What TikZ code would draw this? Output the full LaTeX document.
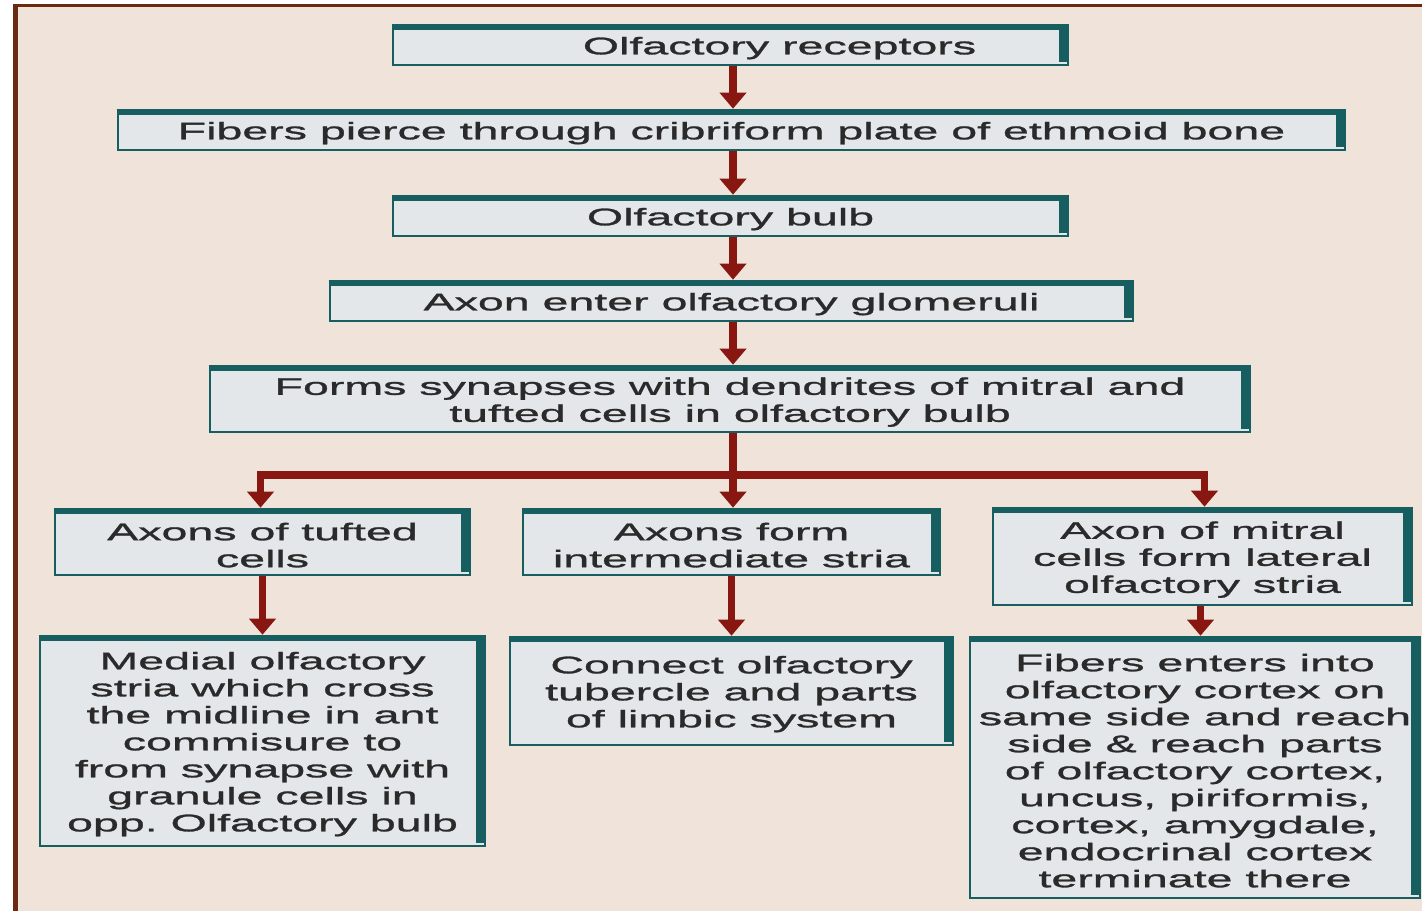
\documentclass[tikz,border=0pt]{standalone}
\usepackage{fontspec}
\setmainfont{Liberation Sans}[FakeStretch=1.94,FakeBold=1.2]
\usetikzlibrary{arrows.meta,calc}
\definecolor{paper}{HTML}{F0E4DA}
\definecolor{frame}{HTML}{6A2A12}
\definecolor{boxfill}{HTML}{E3E7EA}
\definecolor{boxedge}{HTML}{175E60}
\definecolor{flow}{HTML}{881712}
\definecolor{ink}{HTML}{2A2A2A}
\frenchspacing
% strut that lowers the first line of a box a little
\newcommand\toprise{\rule{0pt}{11.8pt}}
\begin{document}
\begin{tikzpicture}[x=0.5pt,y=-0.5pt,
  bx/.style={draw=boxedge, line width=1.3pt, fill=boxfill, inner sep=0pt,
    align=center, text=ink, font=\fontsize{12}{13.5}\selectfont},
  flowarrow/.style={draw=flow, line width=3.8pt, -{Triangle[length=8pt,width=13pt]}},
  rim/.style={draw=boxedge}]
\useasboundingbox (0,0) rectangle (1422,911);
% page and frame
\fill[white] (0,0) rectangle (1422,911);
\fill[paper] (16,5) rectangle (1422,911);
\fill[frame] (13,4) rectangle (1422,7);
\fill[frame] (13,4) rectangle (18,911);

% main column
\node[bx, minimum width=337.5pt, minimum height=20pt] (b1) at (730.5,45)
  {\toprise\hspace*{49pt}Olfactory receptors};
\node[bx, minimum width=613.5pt, minimum height=20pt] (b2) at (731.5,130)
  {\toprise Fibers pierce through cribriform plate of ethmoid bone};
\node[bx, minimum width=337.5pt, minimum height=20pt] (b3) at (730.5,216)
  {\toprise Olfactory bulb};
\node[bx, minimum width=401.5pt, minimum height=20pt] (b4) at (731.5,301)
  {\toprise Axon enter olfactory glomeruli};
\node[bx, minimum width=520pt, minimum height=33pt] (b5) at (730,399)
  {\toprise Forms synapses with dendrites of mitral and\\tufted cells in olfactory bulb};

% three branches
\node[bx, minimum width=207.5pt, minimum height=33pt] (b6) at (262.5,542)
  {\toprise Axons of tufted\\cells};
\node[bx, minimum width=208.5pt, minimum height=33pt] (b7) at (731.5,542)
  {\toprise Axons form\\intermediate stria};
\node[bx, minimum width=209.5pt, minimum height=48.5pt] (b8) at (1202.5,556.5)
  {\toprise Axon of mitral\\cells form lateral\\olfactory stria};

\node[bx, minimum width=222.5pt, minimum height=105pt] (b9) at (262.5,741)
  {\toprise Medial olfactory\\stria which cross\\the midline in ant\\commisure to\\from synapse with\\granule cells in\\opp. Olfactory bulb};
\node[bx, minimum width=221.5pt, minimum height=54pt] (b10) at (731.5,691)
  {\toprise Connect olfactory\\tubercle and parts\\of limbic system};
\node[bx, minimum width=225pt, minimum height=130.5pt] (b11) at (1195,767.5)
  {\toprise Fibers enters into\\olfactory cortex on\\same side and reach\\side \& reach parts\\of olfactory cortex,\\uncus, piriformis,\\cortex, amygdale,\\endocrinal cortex\\terminate there};

% heavy top and right rims of every box
\foreach \n in {b1,b2,b3,b4,b5,b6,b7,b8,b9,b10,b11} {
  \draw[rim, line width=3pt] ([yshift=-1.5pt]\n.north west) -- ([yshift=-1.5pt]\n.north east);
  \draw[rim, line width=5pt] ([xshift=-2.5pt]\n.north east) -- ([xshift=-2.5pt,yshift=2pt]\n.south east);
}

% connectors
\draw[flowarrow] ([xshift=1.25pt]b1.south) -- ([xshift=1.25pt]b1.south |- b2.north);
\draw[flowarrow] ([xshift=0.75pt]b2.south) -- ([xshift=0.75pt]b2.south |- b3.north);
\draw[flowarrow] ([xshift=1.25pt]b3.south) -- ([xshift=1.25pt]b3.south |- b4.north);
\draw[flowarrow] ([xshift=0.75pt]b4.south) -- ([xshift=0.75pt]b4.south |- b5.north);
\coordinate (split) at (733,475);
\draw[flowarrow] ([xshift=1.5pt]b5.south) -- ([xshift=1.5pt]b5.south |- b7.north);
\draw[flowarrow] (split) -| ([xshift=-1pt]b6.north);
\draw[flowarrow] (split) -| ([xshift=1pt]b8.north);
\draw[flowarrow] (b6.south) -- (b9.north);
\draw[flowarrow] (b7.south) -- (b10.north);
\draw[flowarrow] ([xshift=-1pt]b8.south) -- ([xshift=-1pt]b8.south |- b11.north);
\end{tikzpicture}
\end{document}
